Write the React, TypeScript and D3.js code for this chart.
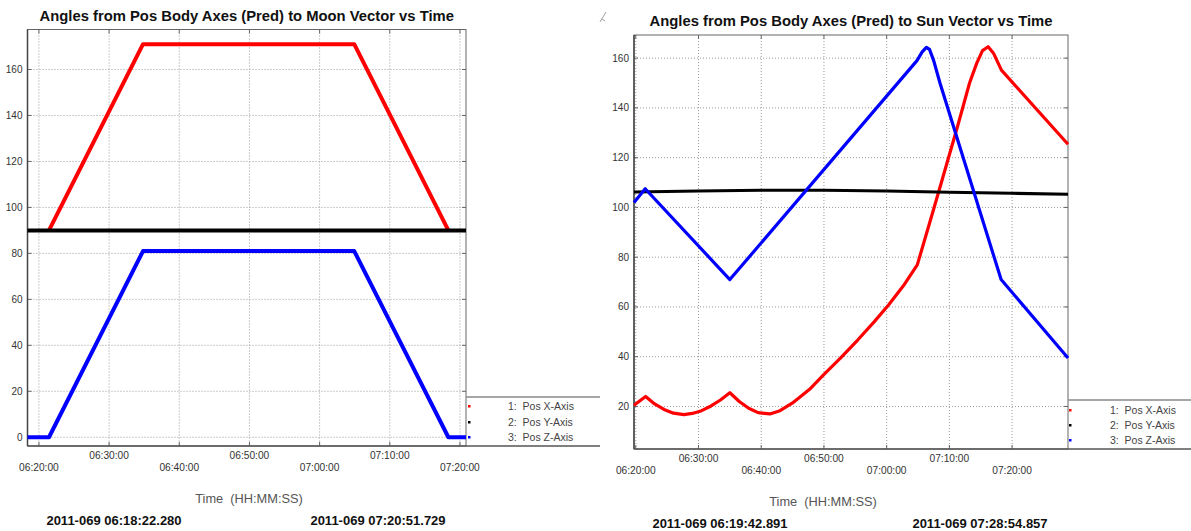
import React from "react";
import * as d3 from "d3";

const DAY = "2011-03-10";
const t = (s: string) => new Date(`${DAY}T${s}Z`);

// ---- Moon panel data ----
const moonStart = "06:18:22.280";
const moonEnd = "07:20:51.729";
const moonTicks = ["06:20:00", "06:30:00", "06:40:00", "06:50:00", "07:00:00", "07:10:00", "07:20:00"];
const moonYTicks = [0, 20, 40, 60, 80, 100, 120, 140, 160];
const moonX: [string, number][] = [
  ["06:21:26", 90], ["06:34:50", 171], ["07:04:56", 171], ["07:18:21", 90],
];
const moonY: [string, number][] = [["06:18:22.280", 90], ["07:20:51.729", 90]];
const moonZ: [string, number][] = [
  ["06:18:22.280", 0], ["06:21:26", 0], ["06:34:50", 81], ["07:04:56", 81], ["07:18:21", 0], ["07:20:51.729", 0],
];

// ---- Sun panel data ----
const sunStart = "06:19:42.891";
const sunEnd = "07:28:54.857";
const sunTicks = ["06:20:00", "06:30:00", "06:40:00", "06:50:00", "07:00:00", "07:10:00", "07:20:00"];
const sunYTicks = [20, 40, 60, 80, 100, 120, 140, 160];
const sunX: [string, number][] = [
  ["06:19:42.891", 20.5], ["06:21:34", 24], ["06:23:00", 21], ["06:24:30", 18.8], ["06:26:00", 17.3], ["06:27:40", 16.7],
  ["06:29:00", 17.2], ["06:30:30", 18.3], ["06:32:00", 20.2], ["06:33:30", 22.6], ["06:35:00", 25.5],
  ["06:36:30", 22], ["06:38:00", 19.3], ["06:39:30", 17.5], ["06:41:23", 17], ["06:43:00", 18.3],
  ["06:45:00", 21.4], ["06:47:40", 26.8], ["06:49:56", 32.7], ["06:52:40", 39.5], ["06:55:25", 46.8],
  ["06:58:00", 54], ["07:00:18", 60.8], ["07:02:40", 68.5], ["07:04:53", 76.9], ["07:05:40", 83.6],
  ["07:07:55", 103], ["07:11:18", 132.5], ["07:13:13", 150], ["07:14:21", 157.9], ["07:15:17", 163],
  ["07:16:11", 164.6], ["07:17:02", 162], ["07:18:18", 155.2], ["07:28:54.857", 125.4],
];
const sunY: [string, number][] = [
  ["06:19:42.891", 106.2], ["06:30:00", 106.6], ["06:40:00", 106.9], ["06:50:00", 106.9],
  ["07:00:00", 106.6], ["07:10:00", 106.1], ["07:20:00", 105.7], ["07:28:54.857", 105.3],
];
const sunZ: [string, number][] = [
  ["06:19:42.891", 102], ["06:21:30", 107.5], ["06:35:00", 71], ["07:04:50", 159], ["07:05:40", 162.5],
  ["07:06:20", 164.3], ["07:06:50", 163.5], ["07:07:30", 159], ["07:08:30", 150], ["07:18:15", 71],
  ["07:28:54.857", 39.5],
];

const legendLabels = ["1:  Pos X-Axis", "2:  Pos Y-Axis", "3:  Pos Z-Axis"];
const seriesColors = ["#ff0000", "#000000", "#0000ff"];
const datePrefix = "2011-069";

const FONT = "'Liberation Sans', Arial, sans-serif";
const fmt = d3.utcFormat("%H:%M:%S");

type PanelProps = {
  title: string;
  titleY: number;
  left: number; right: number; top: number; bottom: number;
  start: string; end: string;
  yDomain: [number, number];
  yTicks: number[];
  xTicks: string[];
  series: [string, number][][];
  lineWidth: number;
  legendRight: number;
  legendTop: number;
  legendMarkerX: number;
  legendNumX: number;
  legendRows: number[];
  tickRowY: [number, number];
  timeLabelX: number; timeLabelY: number;
  dateY: number; dateX: [number, number];
};

function Panel(p: PanelProps) {
  const x = d3.scaleUtc().domain([t(p.start), t(p.end)]).range([p.left, p.right]);
  const y = d3.scaleLinear().domain(p.yDomain).range([p.bottom, p.top]);
  const line = d3.line<[string, number]>().x((d) => x(t(d[0]))).y((d) => y(d[1]));
  const grid = "#9a9a9a";
  const axis = "#666";
  return (
    <g>
      <text x={(p.left + p.right) / 2} y={p.titleY} textAnchor="middle" fontFamily={FONT} fontWeight="bold" fontSize={14.8} fill="#111">
        {p.title}
      </text>
      {/* grid */}
      {p.xTicks.map((s) => (
        <line key={"gx" + s} x1={x(t(s))} x2={x(t(s))} y1={p.top} y2={p.bottom} stroke={grid} strokeWidth={1} strokeDasharray="1,2" />
      ))}
      {p.yTicks.map((v) => (
        <line key={"gy" + v} x1={p.left} x2={p.right} y1={y(v)} y2={y(v)} stroke={grid} strokeWidth={1} strokeDasharray="1,2" />
      ))}
      {/* tick marks */}
      {p.xTicks.map((s) => (
        <g key={"tx" + s}>
          <line x1={x(t(s))} x2={x(t(s))} y1={p.bottom} y2={p.bottom - 4} stroke={axis} />
          <line x1={x(t(s))} x2={x(t(s))} y1={p.top} y2={p.top + 4} stroke={axis} />
        </g>
      ))}
      {p.yTicks.map((v) => (
        <g key={"ty" + v}>
          <line x1={p.left} x2={p.left + 4} y1={y(v)} y2={y(v)} stroke={axis} />
          <line x1={p.right} x2={p.right - 4} y1={y(v)} y2={y(v)} stroke={axis} />
        </g>
      ))}
      {/* frame */}
      <rect x={p.left} y={p.top} width={p.right - p.left} height={p.bottom - p.top} fill="none" stroke={axis} strokeWidth={1} />
      <line x1={p.left} x2={p.left} y1={p.top} y2={p.bottom} stroke="#444" strokeWidth={1.5} />
      {/* legend box */}
      <line x1={p.right} x2={p.legendRight} y1={p.legendTop} y2={p.legendTop} stroke="#888" strokeWidth={1.5} />
      <line x1={p.left} x2={p.legendRight} y1={p.bottom} y2={p.bottom} stroke="#555" strokeWidth={1.5} />
      {/* y tick labels */}
      {p.yTicks.map((v) => (
        <text key={"yl" + v} x={p.left - 5} y={y(v)} dy="0.35em" textAnchor="end" fontFamily={FONT} fontSize={10} fill="#333">
          {v}
        </text>
      ))}
      {/* x tick labels */}
      {p.xTicks.map((s, i) => (
        <text key={"xl" + s} x={x(t(s))} y={i % 2 === 0 ? p.tickRowY[1] : p.tickRowY[0]} dy="0.35em" textAnchor="middle" fontFamily={FONT} fontSize={10.2} fill="#333">
          {fmt(t(s))}
        </text>
      ))}
      {/* series */}
      {p.series.map((d, i) => (
        <path key={"s" + i} d={line(d) || ""} fill="none" stroke={seriesColors[i]} strokeWidth={p.lineWidth} strokeLinejoin="round" />
      ))}
      {/* legend entries */}
      {legendLabels.map((l, i) => (
        <g key={"lg" + i}>
          <rect x={p.legendMarkerX - 1} y={p.legendRows[i] - 1} width={2.5} height={2.5} fill={seriesColors[i]} />
          <text x={p.legendNumX} y={p.legendRows[i]} dy="0.35em" fontFamily={FONT} fontSize={10.5} fill="#444" style={{ whiteSpace: "pre" }}>
            {l}
          </text>
        </g>
      ))}
      <text x={p.timeLabelX} y={p.timeLabelY} dy="0.35em" textAnchor="middle" fontFamily={FONT} fontSize={12.8} fill="#555" style={{ whiteSpace: "pre" }}>
        {"Time  (HH:MM:SS)"}
      </text>
      <text x={p.dateX[0]} y={p.dateY} dy="0.35em" textAnchor="middle" fontFamily={FONT} fontWeight="bold" fontSize={13} fill="#111">
        {`${datePrefix} ${p.start}`}
      </text>
      <text x={p.dateX[1]} y={p.dateY} dy="0.35em" textAnchor="middle" fontFamily={FONT} fontWeight="bold" fontSize={13} fill="#111">
        {`${datePrefix} ${p.end}`}
      </text>
    </g>
  );
}

export default function App() {
  return (
    <svg width={1191} height={531} style={{ position: "absolute", left: 0, top: 0, background: "#fff" }}>
      <rect width={1191} height={531} fill="#fff" />
      <Panel
        title="Angles from Pos Body Axes (Pred) to Moon Vector vs Time"
        titleY={21}
        left={27.5} right={466} top={29.5} bottom={446}
        start={moonStart} end={moonEnd}
        yDomain={[-3.8, 177.4]}
        yTicks={moonYTicks}
        xTicks={moonTicks}
        series={[moonX, moonY, moonZ]}
        lineWidth={4}
        legendRight={600}
        legendTop={397}
        legendMarkerX={469}
        legendNumX={508}
        legendRows={[406, 422, 437]}
        tickRowY={[455, 467]}
        timeLabelX={249} timeLabelY={499}
        dateY={520} dateX={[114, 378]}
      />
      <Panel
        title="Angles from Pos Body Axes (Pred) to Sun Vector vs Time"
        titleY={26}
        left={634} right={1068} top={35} bottom={449}
        start={sunStart} end={sunEnd}
        yDomain={[2.9, 169.3]}
        yTicks={sunYTicks}
        xTicks={sunTicks}
        series={[sunX, sunY, sunZ]}
        lineWidth={3.2}
        legendRight={1191}
        legendTop={400}
        legendMarkerX={1070}
        legendNumX={1110}
        legendRows={[410, 425, 440]}
        tickRowY={[458, 470]}
        timeLabelX={823} timeLabelY={502}
        dateY={523} dateX={[720, 980]}
      />
      <path d="M600,22 L606,12 M602,19 L605,21" stroke="#888" strokeWidth={0.8} fill="none" />
    </svg>
  );
}
